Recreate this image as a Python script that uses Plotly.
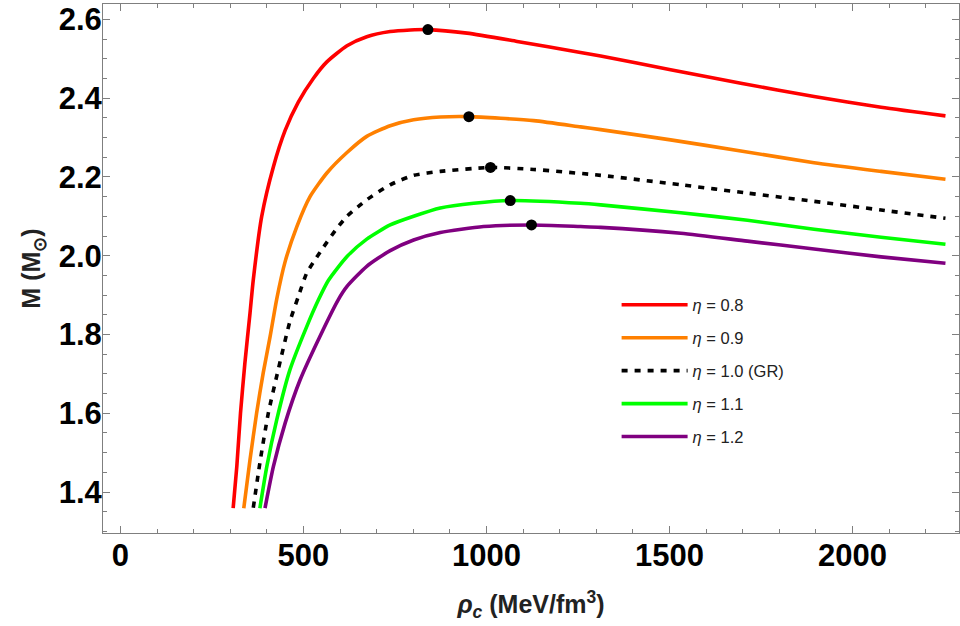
import plotly.graph_objects as go

# ---- data (rho_c in MeV/fm^3, M in solar masses) ----
rho_08 = [308, 318, 328, 340, 354, 363, 386, 418, 450, 486, 527, 564, 619, 673, 737, 792, 840, 947, 1084, 1257, 1312, 1503, 1695, 1895, 2078, 2254]
M_08 = [1.359, 1.465, 1.600, 1.727, 1.854, 1.939, 2.100, 2.226, 2.318, 2.390, 2.450, 2.492, 2.533, 2.556, 2.569, 2.573, 2.574, 2.565, 2.544, 2.516, 2.507, 2.472, 2.438, 2.404, 2.377, 2.355]

rho_09 = [337, 354, 372, 390, 409, 427, 450, 482, 518, 564, 619, 673, 737, 801, 874, 952, 1129, 1257, 1312, 1503, 1695, 1895, 2078, 2254]
M_09 = [1.359, 1.482, 1.600, 1.702, 1.795, 1.890, 1.985, 2.074, 2.150, 2.210, 2.262, 2.303, 2.330, 2.345, 2.352, 2.353, 2.343, 2.327, 2.320, 2.294, 2.266, 2.236, 2.214, 2.194]

rho_10 = [363, 381, 404, 431, 463, 486, 509, 532, 555, 587, 619, 673, 737, 801, 874, 1011, 1129, 1312, 1531, 1713, 1895, 2078, 2254]
M_10 = [1.360, 1.474, 1.600, 1.710, 1.833, 1.896, 1.956, 1.990, 2.022, 2.064, 2.100, 2.142, 2.180, 2.204, 2.214, 2.224, 2.219, 2.204, 2.180, 2.159, 2.138, 2.116, 2.095]

rho_11 = [381, 400, 427, 463, 509, 541, 568, 619, 673, 737, 801, 874, 965, 1065, 1257, 1312, 1531, 1713, 1895, 2078, 2254]
M_11 = [1.359, 1.465, 1.583, 1.710, 1.820, 1.888, 1.937, 1.998, 2.042, 2.078, 2.100, 2.121, 2.133, 2.140, 2.133, 2.129, 2.109, 2.090, 2.067, 2.047, 2.029]

rho_12 = [395, 418, 450, 491, 545, 595, 619, 673, 737, 801, 874, 992, 1123, 1257, 1312, 1531, 1713, 1895, 2078, 2254]
M_12 = [1.359, 1.465, 1.575, 1.685, 1.795, 1.888, 1.922, 1.973, 2.013, 2.040, 2.059, 2.074, 2.078, 2.074, 2.072, 2.057, 2.037, 2.017, 1.997, 1.981]

# maximum-mass points
peak_rho = [840, 952, 1011, 1065, 1123]
peak_M = [2.574, 2.353, 2.224, 2.140, 2.078]

series_names = ["<i>η</i> = 0.8", "<i>η</i> = 0.9", "<i>η</i> = 1.0 (GR)", "<i>η</i> = 1.1", "<i>η</i> = 1.2"]
series_x = [rho_08, rho_09, rho_10, rho_11, rho_12]
series_y = [M_08, M_09, M_10, M_11, M_12]
colors = ["#FF0000", "#FF8000", "#000000", "#00FF00", "#800080"]
dashes = ["solid", "solid", "6px,7px", "solid", "solid"]

x_ticks = [0, 500, 1000, 1500, 2000]
y_ticks = [1.4, 1.6, 1.8, 2.0, 2.2, 2.4, 2.6]

fig = go.Figure()
for i in range(5):
    fig.add_trace(go.Scatter(
        x=series_x[i], y=series_y[i], mode="lines", name=series_names[i],
        line=dict(color=colors[i], width=3.6, dash=dashes[i], shape="spline", smoothing=0.6),
        legendgroup=str(i),
    ))
fig.add_trace(go.Scatter(
    x=peak_rho, y=peak_M, mode="markers", showlegend=False,
    marker=dict(color="black", size=11),
))

axis_common = dict(
    showline=True, linecolor="#7f7f7f", linewidth=1, mirror="ticks",
    ticks="inside", tickcolor="#7f7f7f", ticklen=7, tickwidth=1,
    showgrid=False, zeroline=False, automargin=False,
    tickfont=dict(family="Liberation Sans, Arial", size=31, color="black", weight="bold"),
)

fig.update_xaxes(
    range=[-47.6, 2291], tickvals=x_ticks, ticktext=[str(v) for v in x_ticks],
    minor=dict(ticks="inside", dtick=100, tick0=0, ticklen=4, tickcolor="#7f7f7f"),
    ticklabelstandoff=-5,
    title=dict(text="<b><i>ρ</i><sub><i>c</i></sub> (MeV/fm<sup>3</sup>)</b>",
               font=dict(family="Liberation Sans, Arial", size=25, color="#222"), standoff=23),
    **axis_common,
)
fig.update_yaxes(
    range=[1.296, 2.639], tickvals=y_ticks, ticktext=[f"{v:.1f}" for v in y_ticks],
    minor=dict(ticks="inside", dtick=0.05, tick0=1.3, ticklen=4, tickcolor="#7f7f7f"),
    ticklabelstandoff=-6,
    title=dict(text="<b>M (M<sub>⊙</sub>)</b>",
               font=dict(family="Liberation Sans, Arial", size=25, color="#222"), standoff=10),
    **axis_common,
)

fig.update_layout(
    width=960, height=626,
    margin=dict(l=103, r=1, t=4, b=93),
    plot_bgcolor="white", paper_bgcolor="white",
    showlegend=True,
    legend=dict(
        x=0.6, y=0.464, xanchor="left", yanchor="top",
        font=dict(family="Liberation Sans, Arial", size=16.5, color="#222"),
        bgcolor="rgba(0,0,0,0)", tracegroupgap=8.5, traceorder="grouped",
        itemwidth=66,
    ),
)

fig.write_html(
    "out.html",
    config={"displayModeBar": False},
    post_script="document.body.style.margin='0px';document.body.style.overflow='hidden';",
)
